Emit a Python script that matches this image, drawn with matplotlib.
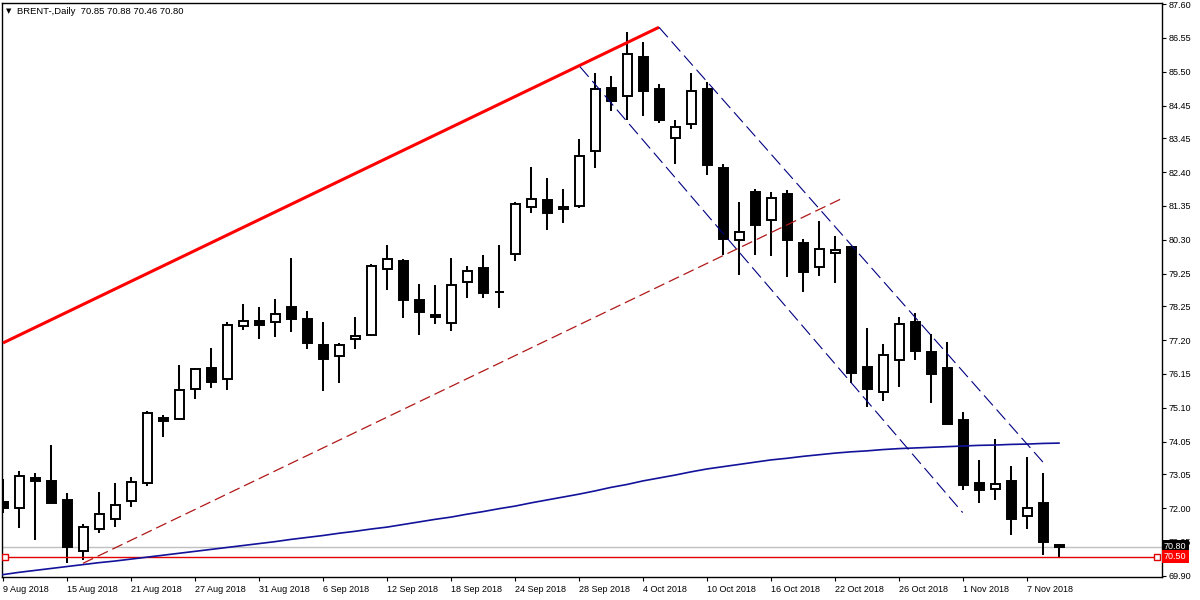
import matplotlib
matplotlib.use("Agg")
import matplotlib.pyplot as plt
import matplotlib.transforms as mtransforms

plt.rcParams['font.family'] = ['Liberation Sans', 'DejaVu Sans']
plt.rcParams['font.size'] = 6.5

# daily bars, 9 Aug 2018 .. 9 Nov 2018 (index = trading day)
opens = [72.19, 71.99, 72.92, 72.84, 72.25, 70.68, 71.34, 71.65, 72.21, 72.77,
         74.79, 74.76, 75.67, 76.33, 75.98, 77.62, 77.79, 77.75, 78.21, 77.84,
         77.04, 76.70, 77.22, 77.36, 79.41, 79.65, 78.44, 77.97, 77.72, 78.99,
         79.43, 78.70, 79.85, 81.31, 81.52, 81.24, 81.35, 83.06, 85.00, 84.76,
         85.96, 84.97, 83.44, 83.88, 84.97, 82.52, 80.29, 81.78, 80.91, 81.72,
         80.20, 79.45, 79.88, 80.08, 76.37, 75.60, 76.59, 77.76, 76.83, 76.33,
         74.72, 72.77, 72.58, 72.84, 71.74, 72.16, 70.85]
highs = [72.90, 73.15, 73.09, 73.95, 72.46, 71.51, 72.50, 72.77, 72.96, 75.00,
         74.89, 76.43, 76.33, 76.95, 77.76, 78.31, 78.22, 78.47, 79.74, 78.10,
         77.76, 77.10, 77.91, 79.55, 80.14, 79.70, 78.93, 78.90, 79.74, 79.49,
         79.83, 80.14, 81.47, 82.56, 82.21, 81.87, 83.42, 85.47, 85.37, 86.72,
         86.42, 85.13, 84.01, 85.46, 85.19, 82.65, 81.47, 81.87, 81.78, 81.84,
         80.33, 80.88, 80.42, 80.11, 77.57, 77.08, 77.91, 78.04, 77.39, 77.14,
         74.97, 73.49, 74.14, 73.30, 73.58, 73.09, 70.88]
lows = [71.85, 71.38, 71.01, 72.15, 70.31, 70.39, 71.24, 71.42, 72.04, 72.69,
        74.21, 74.72, 75.37, 75.72, 75.65, 77.51, 77.23, 77.29, 77.46, 76.91,
        75.63, 75.88, 76.91, 77.34, 78.76, 77.87, 77.36, 77.71, 77.49, 78.51,
        78.51, 78.20, 79.66, 81.14, 80.61, 80.83, 81.29, 82.53, 84.30, 84.01,
        84.14, 83.93, 82.66, 83.72, 82.32, 79.82, 79.21, 79.84, 79.81, 79.16,
        78.70, 79.18, 78.97, 75.88, 75.12, 75.32, 75.76, 76.59, 75.26, 74.57,
        72.56, 72.17, 72.26, 71.17, 71.36, 70.56, 70.46]
closes = [72.00, 72.98, 72.83, 72.17, 70.80, 71.40, 71.81, 72.08, 72.81, 74.93,
          74.70, 75.64, 76.29, 75.91, 77.66, 77.78, 77.67, 78.01, 77.86, 77.12,
          76.62, 77.04, 77.32, 79.48, 79.70, 78.45, 78.08, 77.92, 78.89, 79.34,
          78.66, 78.68, 81.40, 81.56, 81.14, 81.31, 82.90, 84.97, 84.61, 86.05,
          84.92, 84.02, 83.79, 84.91, 82.63, 80.34, 80.53, 80.77, 81.59, 80.31,
          79.31, 80.01, 79.98, 76.18, 75.69, 76.74, 77.70, 76.87, 76.16, 74.61,
          72.72, 72.57, 72.73, 71.67, 71.99, 70.96, 70.80]

# moving average (navy line)
ma_values = [69.94, 70.01, 70.07, 70.13, 70.19, 70.25, 70.31, 70.36, 70.42, 70.48,
             70.54, 70.60, 70.66, 70.72, 70.78, 70.84, 70.90, 70.96, 71.03, 71.09,
             71.15, 71.22, 71.28, 71.35, 71.41, 71.49, 71.57, 71.65, 71.72, 71.81,
             71.89, 71.98, 72.06, 72.16, 72.25, 72.34, 72.43, 72.53, 72.64, 72.73,
             72.84, 72.93, 73.02, 73.12, 73.21, 73.28, 73.35, 73.42, 73.49, 73.54,
             73.60, 73.65, 73.70, 73.74, 73.77, 73.81, 73.84, 73.86, 73.88, 73.90,
             73.92, 73.94, 73.95, 73.97, 73.98, 74.00, 74.01]

# drawn objects: (bar index, price) end points
red_trend_x, red_trend_y = [0, 41], [77.11, 86.88]
red_dash_x, red_dash_y = [5, 52.6], [70.29, 81.62]
chan_upper_x, chan_upper_y = [41, 65], [86.88, 73.42]
chan_lower_x, chan_lower_y = [36.06, 59.98], [85.66, 71.86]
support_level = 70.50
support_x = [0.12, 72.1]
bid_level = 70.80

date_pos = list(range(0, 65, 4))
date_labels = ['9 Aug 2018', '15 Aug 2018', '21 Aug 2018', '27 Aug 2018', '31 Aug 2018',
               '6 Sep 2018', '12 Sep 2018', '18 Sep 2018', '24 Sep 2018', '28 Sep 2018',
               '4 Oct 2018', '10 Oct 2018', '16 Oct 2018', '22 Oct 2018', '26 Oct 2018',
               '1 Nov 2018', '7 Nov 2018']
price_ticks = [87.60, 86.55, 85.50, 84.45, 83.45, 82.40, 81.35, 80.30, 79.25, 78.25,
               77.20, 76.15, 75.10, 74.05, 73.05, 72.00, 70.95, 69.90]

fig = plt.figure(figsize=(12, 6), dpi=100)
ax = fig.add_axes([2 / 1200, 23 / 600, 1160 / 1200, 574 / 600])
ax.set_xlim(-0.0625, 72.4375)
ax.set_ylim(69.866, 87.631)

# candles
idx = list(range(len(opens)))
bottoms = [min(o, c) for o, c in zip(opens, closes)]
heights = [max(abs(c - o), 0.01) for o, c in zip(opens, closes)]
fills = ['black' if c < o else 'white' for o, c in zip(opens, closes)]
ax.vlines(idx, lows, highs, color='black', lw=1.45, zorder=2)
ax.bar(idx, heights, width=0.5625, bottom=bottoms, color=fills,
       edgecolor='black', linewidth=1.4, zorder=3)

# lines
ax.axhline(bid_level, color='#c0c0c0', lw=1, zorder=1)
ax.plot(support_x, [support_level] * 2, color='#e00000', lw=1, zorder=4,
        marker='s', ms=4, mfc='white', mec='#e00000', mew=1)
ax.plot(idx, ma_values, color='#12129a', lw=1.2, zorder=4)
ax.plot(red_trend_x, red_trend_y, color='#ff0000', lw=2.2, zorder=5,
        solid_capstyle='butt')
ax.plot(red_dash_x, red_dash_y, color='#b01818', lw=0.9, ls=(0, (9, 4)), zorder=5)
ax.plot(chan_upper_x, chan_upper_y, color='#000080', lw=0.8, ls=(0, (12, 5)), zorder=5)
ax.plot(chan_lower_x, chan_lower_y, color='#000080', lw=0.8, ls=(0, (12, 5)), zorder=5)

# axes
for s in ax.spines.values():
    s.set_linewidth(1)
    s.set_color('black')
ax.yaxis.tick_right()
ax.set_yticks(price_ticks)
ax.set_yticklabels(['%.2f' % v for v in price_ticks])
ax.tick_params(axis='y', length=3, width=0.8, pad=1.5, labelsize=6.5)
ax.set_xticks(date_pos)
ax.set_xticklabels(date_labels)
ax.tick_params(axis='x', length=3, width=0.8, pad=3, labelsize=6.5)
for lbl in ax.get_xticklabels():
    lbl.set_ha('left')

# price tags on the right scale
trans = mtransforms.blended_transform_factory(ax.transAxes, ax.transData)
ax.text(1.0 + 2 / 1160, bid_level, '%.2f' % bid_level, transform=trans, ha='left',
        va='center', color='white', fontsize=6.5, clip_on=False, zorder=10,
        bbox=dict(facecolor='black', edgecolor='none', pad=1.6))
ax.text(1.0 + 2 / 1160, support_level, '%.2f' % support_level, transform=trans,
        ha='left', va='center', color='white', fontsize=6.5, clip_on=False, zorder=10,
        bbox=dict(facecolor='#ff0000', edgecolor='none', pad=1.6))

# header
fig.text(6 / 1200, 1 - 11 / 600, '\u25bc', fontsize=5, family='DejaVu Sans',
         va='center', ha='left')
fig.text(17 / 1200, 1 - 11 / 600, 'BRENT-,Daily  70.85 70.88 70.46 70.80',
         fontsize=6.8, va='center', ha='left')

fig.savefig('out.png', dpi=100)
